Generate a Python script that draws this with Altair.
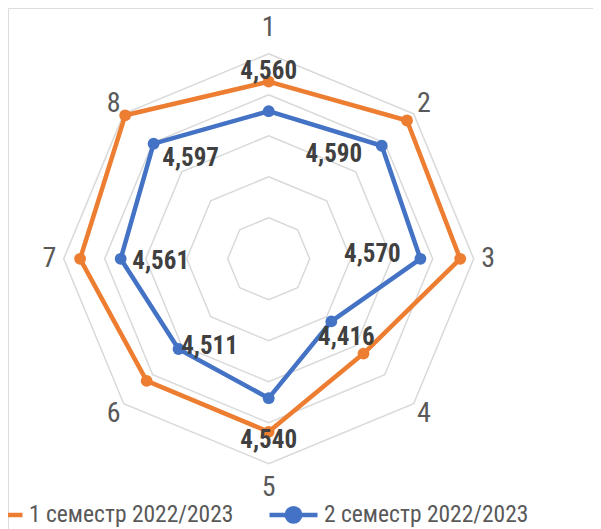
import altair as alt
import pandas as pd

# ---------------- data ----------------
categories = ["1", "2", "3", "4", "5", "6", "7", "8"]
series_names = ["1 семестр 2022/2023", "2 семестр 2022/2023"]
sem1 = [4.632, 4.677, 4.667, 4.527, 4.622, 4.621, 4.660, 4.695]
sem2 = [4.560, 4.590, 4.570, 4.416, 4.540, 4.511, 4.561, 4.597]
grid_levels = [4.3, 4.4, 4.5, 4.6, 4.7]
r_min, r_max = 4.2, 4.7

# ---------------- style ----------------
colors = ["#ED7D31", "#4472C4"]
FONT = "Liberation Sans Narrow, Arial Narrow, Roboto Condensed, sans-serif"
R_PX = 205.0
W, H = 585, 521
CX, CY = 260.7, 250.8
lab_dx = [0, -48, -48, 15, 0, 31, 40, 37]
lab_dy = [-40, 8, -5, 16, 42, -3, 2, 14]
cat_r = [1.125, 1.07, 1.07, 1.07, 1.12, 1.07, 1.07, 1.07]

xdom = [-CX / R_PX, (W - CX) / R_PX]
ydom = [-(H - CY) / R_PX, CY / R_PX]

rows = []
for s, vals in zip(series_names, [sem1, sem2]):
    for i in range(9):
        k = i % 8
        rows.append({"series": s, "i": i, "cat": categories[k], "value": vals[k],
                     "dx": lab_dx[k], "dy": lab_dy[k]})
df = pd.DataFrame(rows)

grid_rows = []
for lv in grid_levels:
    for i in range(9):
        grid_rows.append({"level": lv, "i": i, "value": lv})
grid_df = pd.DataFrame(grid_rows)

cat_df = pd.DataFrame({"cat": categories, "i": list(range(8)), "rr": cat_r})
leg_df = pd.DataFrame({"series": series_names})

polar = dict(
    ang="datum.i * PI / 4",
    rr=f"(datum.value - {r_min}) / {r_max - r_min}",
)
xy = dict(px="datum.rr * sin(datum.ang)", py="datum.rr * cos(datum.ang)")

X = alt.X("px:Q", scale=alt.Scale(domain=xdom, nice=False, zero=False), axis=None)
Y = alt.Y("py:Q", scale=alt.Scale(domain=ydom, nice=False, zero=False), axis=None)
color_scale = alt.Scale(domain=series_names, range=colors)

sym_path = "M-1,0L1,0M0.28,0A0.28,0.28,0,1,1,-0.28,0A0.28,0.28,0,1,1,0.28,0Z"
leg = alt.Legend(
    orient="none", legendX=-36, legendY=480, direction="horizontal", title=None,
    labelFont=FONT, labelFontSize=23.5, labelColor="#595959", symbolSize=2304,
    symbolStrokeWidth=4.5, symbolOpacity=1, labelOffset=4, columnPadding=26, padding=0,
    labelLimit=0,
)
legend_layer = alt.Chart(leg_df).mark_point(filled=True, strokeWidth=4.5, opacity=1).encode(
    x=alt.value(-2000), y=alt.value(-2000),
    fill=alt.Fill("series:N", scale=color_scale, legend=leg),
    stroke=alt.Stroke("series:N", scale=color_scale, legend=leg),
    shape=alt.Shape("series:N", scale=alt.Scale(domain=series_names, range=[sym_path, sym_path]), legend=leg),
)

grid = alt.Chart(grid_df).transform_calculate(**polar).transform_calculate(**xy).mark_line(
    color="#D9D9D9", strokeWidth=1.5
).encode(x=X, y=Y, detail="level:N", order="i:Q")

base = alt.Chart(df).transform_calculate(**polar).transform_calculate(**xy)

lines = base.mark_line(strokeWidth=4.5, strokeJoin="round").encode(
    x=X, y=Y, detail="series:N", order="i:Q",
    color=alt.Color("series:N", scale=color_scale, legend=None),
)
points = base.transform_filter("datum.i < 8").mark_circle(size=140, opacity=1).encode(
    x=X, y=Y, color=alt.Color("series:N", scale=color_scale, legend=None),
)

labels = base.transform_filter(
    f"datum.i < 8 && datum.series == '{series_names[1]}'"
).transform_calculate(
    lx=f"datum.px + datum.dx / {R_PX}",
    ly=f"datum.py - datum.dy / {R_PX}",
    txt="replace(format(datum.value, '.3f'), '.', ',')",
).mark_text(
    font=FONT, fontSize=25, fontWeight="bold", color="#404040", align="center", baseline="middle"
).encode(
    x=alt.X("lx:Q", scale=alt.Scale(domain=xdom, nice=False, zero=False), axis=None),
    y=alt.Y("ly:Q", scale=alt.Scale(domain=ydom, nice=False, zero=False), axis=None),
    text="txt:N",
)

cat_labels = alt.Chart(cat_df).transform_calculate(
    ang="datum.i * PI / 4"
).transform_calculate(**xy).mark_text(
    font=FONT, fontSize=28, color="#595959", align="center", baseline="middle"
).encode(x=X, y=Y, text="cat:N")

chart = alt.layer(legend_layer, grid, lines, points, labels, cat_labels).properties(
    width=W, height=H, autosize=alt.AutoSizeParams(type="none"), padding=0
).configure_view(strokeWidth=0, stroke="transparent").configure(background="white")

chart.save("out.html", embed_options={"renderer": "svg", "actions": False})
